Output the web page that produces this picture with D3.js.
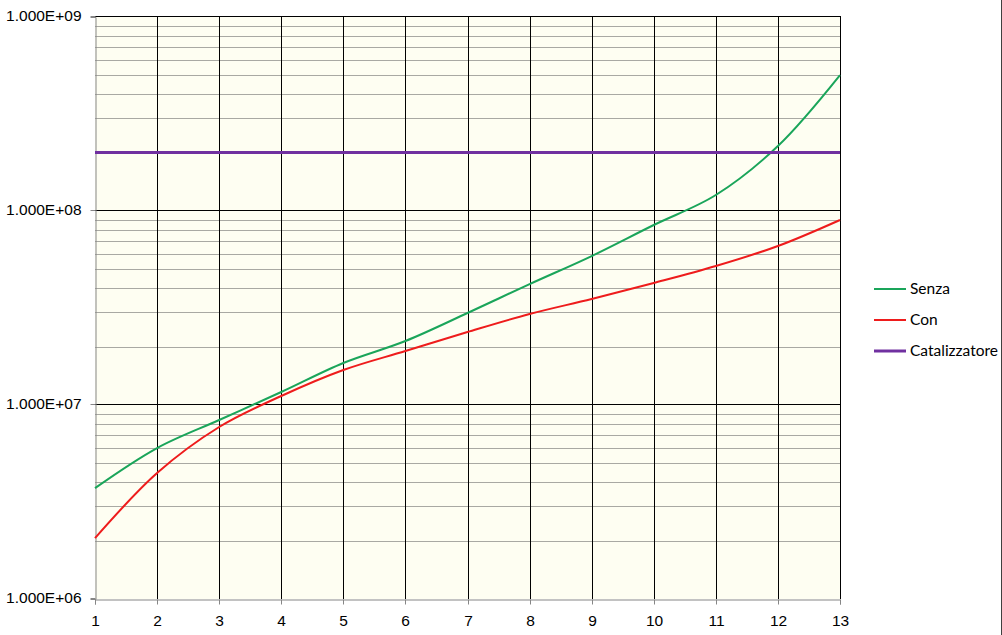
<!DOCTYPE html>
<html><head><meta charset="utf-8">
<script src="https://cdn.jsdelivr.net/npm/d3@7"></script>
<style>body{margin:0;background:#fff;}svg{display:block;font-family:Lato,"Open Sans",sans-serif;}</style>
</head><body>
<svg id="c" width="1002" height="635"></svg>
<script>
const categories = [1,2,3,4,5,6,7,8,9,10,11,12,13];
const senza = [3.73e6, 6.0e6, 8.37e6, 1.167e7, 1.647e7, 2.137e7, 2.98e7, 4.2e7, 5.86e7, 8.47e7, 1.209e8, 2.163e8, 5.02e8];
const con = [2.06e6, 4.46e6, 7.70e6, 1.113e7, 1.515e7, 1.898e7, 2.378e7, 2.945e7, 3.52e7, 4.255e7, 5.205e7, 6.60e7, 8.99e7];
const catalizzatore = categories.map(() => 2.0e8);
const yTickLabels = ["1.000E+06","1.000E+07","1.000E+08","1.000E+09"];
const yTickValues = [1e6,1e7,1e8,1e9];
const seriesNames = ["Senza","Con","Catalizzatore"];
const seriesColors = ["#1aa55a","#ee1c1c","#7030a0"];

const svg = d3.select("#c");
const L=95, R=840, T=17, B=599;
const x = d3.scaleLinear().domain([1,13]).range([L,R]);
const y = d3.scaleLog().domain([1e6,1e9]).range([B,T]);

svg.append("rect").attr("x",L).attr("y",T).attr("width",R-L).attr("height",B-T).attr("fill","#fefef2");

// minor grid
const minors=[];
for(let d=6; d<9; d++) for(let m=2;m<=9;m++) minors.push(m*Math.pow(10,d));
svg.append("g").selectAll("line").data(minors).join("line")
  .attr("x1",L).attr("x2",R).attr("y1",d=>Math.round(y(d))+0.5).attr("y2",d=>Math.round(y(d))+0.5)
  .attr("stroke","#a9a9a3").attr("stroke-width",1);
// major horizontal
svg.append("g").selectAll("line").data(yTickValues.slice(1)).join("line")
  .attr("x1",L).attr("x2",R).attr("y1",d=>Math.round(y(d))-0.5).attr("y2",d=>Math.round(y(d))-0.5)
  .attr("stroke","#000").attr("stroke-width",1);
// vertical grid
svg.append("g").selectAll("line").data(categories.slice(1)).join("line")
  .attr("x1",d=>Math.round(x(d))+0.5).attr("x2",d=>Math.round(x(d))+0.5).attr("y1",T-1).attr("y2",B)
  .attr("stroke","#000").attr("stroke-width",1);

// axes
const yAxis = d3.axisLeft(y).tickValues(yTickValues).tickFormat((d,i)=>yTickLabels[i]).tickSize(5).tickPadding(9);
const gy = svg.append("g").attr("transform",`translate(${L+0.5},0)`).call(yAxis);
gy.select(".domain").attr("stroke","#868686");
gy.selectAll(".tick line").attr("stroke","#868686");
gy.selectAll("text").attr("font-size","15.5px").attr("fill","#000");
gy.selectAll(".tick").attr("transform",d=>`translate(0,${Math.round(y(d))-0.5})`);

const xAxis = d3.axisBottom(x).tickValues(categories).tickFormat(d3.format("d")).tickSize(5).tickPadding(10);
const gx = svg.append("g").attr("transform",`translate(0,${B+0.5})`).call(xAxis);
gx.select(".domain").attr("stroke","#868686");
gx.selectAll(".tick line").attr("stroke","#868686");
gx.selectAll("text").attr("font-size","15.5px").attr("fill","#000");
gx.selectAll(".tick").attr("transform",d=>`translate(${Math.round(x(d))+0.5},0)`);

// series
const line = d3.line().x((d,i)=>x(categories[i])).y(d=>y(d)).curve(d3.curveCatmullRom.alpha(0.5));
const data=[senza,con,catalizzatore];
const widths=[2,2,3];
data.forEach((s,k)=>{
  svg.append("path").attr("d",line(s)).attr("fill","none").attr("stroke",seriesColors[k]).attr("stroke-width",widths[k]);
});

// legend
const lg = svg.append("g");
seriesNames.forEach((n,k)=>{
  const yy = 289 + k*31;
  lg.append("line").attr("x1",874).attr("x2",906).attr("y1",yy).attr("y2",yy).attr("stroke",seriesColors[k]).attr("stroke-width",widths[k]);
  lg.append("text").attr("x",910).attr("y",yy+5).attr("font-size","15.5px").attr("fill","#000").text(n);
});

// chart border right
svg.append("line").attr("x1",1001.5).attr("x2",1001.5).attr("y1",0).attr("y2",635).attr("stroke","#404040");
</script>
</body></html>
